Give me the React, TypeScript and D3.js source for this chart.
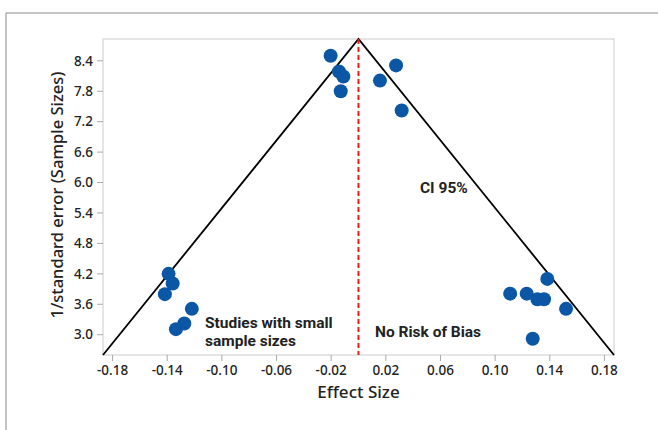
import * as d3 from "d3";

// effect sizes and 1/SE
const effectSizes = [
     -0.0204, -0.0143, -0.0111, -0.013, 0.0157, 0.0275, 0.0316,
     -0.139, -0.136, -0.1417, -0.122, -0.1275, -0.1336,
     0.1382, 0.111, 0.1231, 0.1309, 0.1358, 0.1519, 0.1275,
];
const precisions = [
     8.5, 8.19, 8.09, 7.8, 8.01, 8.31, 7.42,
     4.2, 4.01, 3.8, 3.51, 3.22, 3.11,
     4.1, 3.81, 3.81, 3.7, 3.7, 3.51, 2.92,
];
const xTicks = [-0.18, -0.14, -0.1, -0.06, -0.02, 0.02, 0.06, 0.1, 0.14, 0.18];
const yTicks = [3.0, 3.6, 4.2, 4.8, 5.4, 6.0, 6.6, 7.2, 7.8, 8.4];
const funnelX = [-0.187, 0, 0.187];
const funnelY = [2.6, 8.83, 2.6];

const W = 658;
const H = 430;
const font = "'Noto Sans', 'Open Sans', sans-serif";
const noteFont = "Roboto, 'Noto Sans', sans-serif";

export default function App() {
     const x = d3.scaleLinear().domain([-0.187, 0.187]).range([103, 614]);
     const y = d3.scaleLinear().domain([2.6, 8.83]).range([355, 39]);

     const funnel = d3.line<number>()
          .x((d) => x(d))
          .y((d, i) => y(funnelY[i]))(funnelX);

     return (
          <svg width={W} height={H} style={{ position: "absolute", left: 0, top: 0, background: "#fff" }} fontFamily={font}>
               {/* screenshot border */}
               <line x1={6} x2={W} y1={13} y2={13} stroke="#b0b0b0" strokeWidth={1.5} />
               <line x1={6} x2={6} y1={13} y2={H} stroke="#b0b0b0" strokeWidth={1.5} />

               {/* plot frame */}
               <rect x={x(-0.187)} y={y(8.83)} width={x(0.187) - x(-0.187)} height={y(2.6) - y(8.83)}
                    fill="none" stroke="#cccccc" strokeWidth={1} />

               {/* y axis */}
               {yTicks.map((t) => (
                    <g key={t}>
                         <line x1={97} x2={103} y1={y(t)} y2={y(t)} stroke="#aaa" />
                         <text x={93} y={y(t)} dy="0.35em" textAnchor="end" fontSize={13.5} fontWeight={500} fill="#222">
                              {t.toFixed(1)}
                         </text>
                    </g>
               ))}
               {/* x axis */}
               {xTicks.map((t) => (
                    <g key={t}>
                         <line x1={x(t)} x2={x(t)} y1={355} y2={361} stroke="#aaa" />
                         <text x={x(t)} y={375} textAnchor="middle" fontSize={13.5} fontWeight={500} fill="#222">
                              {t.toFixed(2)}
                         </text>
                    </g>
               ))}

               <text x={x(0)} y={398} textAnchor="middle" fontSize={17} fontWeight={500} fill="#222">Effect Size</text>
               <text transform={`translate(63,${(y(2.6) + y(8.83)) / 2 - 2}) rotate(-90)`} textAnchor="middle"
                    fontSize={16.5} fontWeight={500} fill="#222">
                    1/standard error (Sample Sizes)
               </text>

               {/* funnel */}
               <path d={funnel || ""} fill="none" stroke="#000" strokeWidth={1.8} />
               <line x1={x(0)} x2={x(0)} y1={y(8.83)} y2={y(2.6)} stroke="#e0201c" strokeWidth={2}
                    strokeDasharray="5,3" />

               {effectSizes.map((e, i) => (
                    <circle key={i} cx={x(e)} cy={y(precisions[i])} r={7} fill="#0b57a6" />
               ))}

               <g fontFamily={noteFont} fontWeight="bold" fill="#222">
                    <text x={x(0.045)} y={y(5.8)} fontSize={15.5}>CI 95%</text>
                    <text x={205} y={328} fontSize={15.5}>Studies with small</text>
                    <text x={205} y={346} fontSize={15.5}>sample sizes</text>
                    <text x={375} y={337} fontSize={15.5}>No Risk of Bias</text>
               </g>
          </svg>
     );
}
